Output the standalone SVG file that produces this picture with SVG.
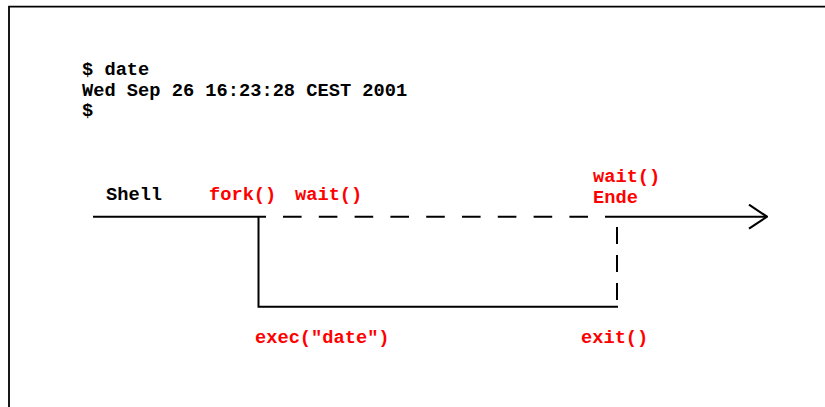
<svg xmlns="http://www.w3.org/2000/svg" width="825" height="407" viewBox="0 0 825 407">
  <defs>
    <style>
      .txt { font-family: "Liberation Mono", "Courier New", monospace; font-weight: bold; font-size: 18.7px; }
      .blk { fill: #000000; }
      .red { fill: #ff0000; }
      .ln { stroke: #000000; stroke-width: 2; fill: none; }
      .dash { stroke-dasharray: 18.6 17.2; }
    </style>
    <marker id="open-arrow" viewBox="0 0 20 26" refX="19" refY="13" markerWidth="20" markerHeight="26" markerUnits="userSpaceOnUse" orient="auto">
      <path d="M1,1 L19,13 L1,25" fill="none" stroke="#000000" stroke-width="2.2"/>
    </marker>
  </defs>

  <rect width="825" height="407" fill="#ffffff"/>

  <!-- frame: top and left edges -->
  <path d="M9,407 V6.7 H825" fill="none" stroke="#000000" stroke-width="1.8"/>

  <!-- terminal output -->
  <g id="terminal">
    <text class="txt blk" x="82" y="75">$ date</text>
    <text class="txt blk" x="82" y="96">Wed Sep 26 16:23:28 CEST 2001</text>
    <text class="txt blk" x="82" y="116">$</text>
  </g>

  <!-- process timeline -->
  <g id="connectors">
    <!-- shell runs until fork -->
    <path class="ln" d="M93,216.7 H266"/>
    <!-- shell waiting -->
    <path class="ln dash" d="M283,216.7 H590"/>
    <!-- shell continues after wait returns -->
    <path class="ln" d="M605,216.7 H767" marker-end="url(#open-arrow)"/>
    <!-- child process: fork, exec, exit -->
    <path class="ln" d="M258.5,216.7 V306.7 H618"/>
    <!-- exit status back to parent -->
    <path class="ln" d="M617,227 V300" stroke-dasharray="17 11"/>
  </g>

  <g id="shell">
    <text class="txt blk" x="106" y="200">Shell</text>
  </g>
  <g id="fork">
    <text class="txt red" x="209" y="200">fork()</text>
  </g>
  <g id="wait">
    <text class="txt red" x="295" y="200">wait()</text>
  </g>
  <g id="wait-end">
    <text class="txt red" x="593" y="182">wait()</text>
    <text class="txt red" x="593" y="203">Ende</text>
  </g>
  <g id="exec">
    <text class="txt red" x="255" y="343">exec("date")</text>
  </g>
  <g id="exit">
    <text class="txt red" x="581" y="343">exit()</text>
  </g>
</svg>
